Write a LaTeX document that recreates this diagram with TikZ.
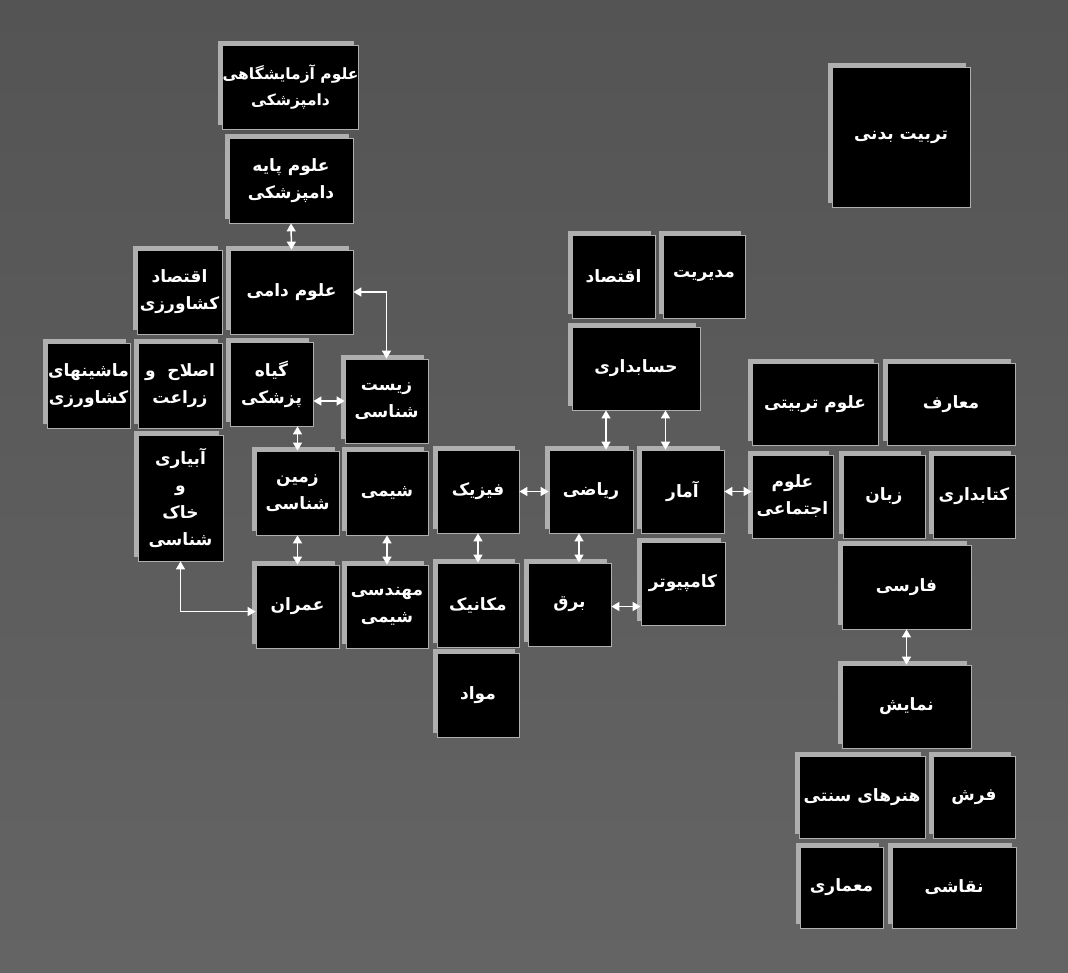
\documentclass[tikz,border=0pt]{standalone}
\usepackage{fontspec}
\usetikzlibrary{arrows.meta,shadows}
\TeXXeTstate=1
\newfontfamily\arabicfont[Script=Arabic]{DejaVu Sans}
\definecolor{bgtop}{RGB}{84,84,84}
\definecolor{bgbot}{RGB}{100,100,100}
\definecolor{edge}{RGB}{175,175,175}
\newcommand{\fa}[1]{\beginR #1\endR}

\tikzset{
  cell/.style 2 args={fill=black, draw=edge, line width=0.8pt, text=white, align=center,
    inner sep=0pt, minimum width=#1pt, minimum height=#2pt,
    font=\arabicfont\bfseries\fontsize{17}{27}\selectfont,
    general shadow={fill=edge, shadow xshift=-4.5pt, shadow yshift=4.5pt}},
  link/.style={white, line width=1.5pt, {Triangle[length=8pt,width=9pt]}-{Triangle[length=8pt,width=9pt]}}
}

\begin{document}
\begin{tikzpicture}[x=1pt,y=-1pt]
  \shade[top color=bgtop, bottom color=bgbot] (0,0) rectangle (1068,972);
  \useasboundingbox (0,0) rectangle (1068,972);

  \node[cell={138}{140}] (tarbiat) at (901,137) {\fa{تربیت بدنی}};

  \node[cell={125}{84}, font=\arabicfont\bfseries\fontsize{15.5}{26}\selectfont] (azmayesh) at (290.5,87) {\fa{علوم آزمایشگاهی}\\\fa{دامپزشکی}};
  \node[cell={124}{85}] (paye) at (291,180.5) {\fa{علوم پایه}\\\fa{دامپزشکی}};
  \node[cell={123}{84}] (dami) at (291.5,292) {\fa{علوم دامی}};
  \node[cell={85}{84}] (eqkesh) at (179.5,292) {\fa{اقتصاد}\\\fa{کشاورزی}};
  \node[cell={83}{85}] (mashin) at (88.5,385.5) {\fa{ماشینهای}\\\fa{کشاورزی}};
  \node[cell={84}{85}] (eslah) at (180,385.5) {\fa{اصلاح \ و}\\\fa{زراعت}};
  \node[cell={83}{84}] (giah) at (271.5,384) {\fa{گیاه}\\\fa{پزشکی}};
  \node[cell={83}{84}] (zist) at (386.5,401) {\fa{زیست}\\\fa{شناسی}};
  \node[cell={85}{126}] (abyari) at (180.5,498) {\fa{آبیاری}\\\fa{و}\\\fa{خاک}\\\fa{شناسی}};

  \node[cell={83}{84}] (zamin) at (297.5,493) {\fa{زمین}\\\fa{شناسی}};
  \node[cell={82}{84}] (shimi) at (387,493) {\fa{شیمی}};
  \node[cell={82}{83}] (fizik) at (478,491.5) {\fa{فیزیک}};
  \node[cell={84}{83}] (riazi) at (591,491.5) {\fa{ریاضی}};
  \node[cell={83}{83}] (amar) at (682.5,491.5) {\fa{آمار}};
  \node[cell={83}{83}] (omran) at (297.5,606.5) {\fa{عمران}};
  \node[cell={82}{83}] (mohshimi) at (387,606.5) {\fa{مهندسی}\\\fa{شیمی}};
  \node[cell={82}{84}] (mekanik) at (478,605) {\fa{مکانیک}};
  \node[cell={83}{83}] (bargh) at (569.5,604.5) {\fa{برق}};
  \node[cell={84}{83}] (computer) at (683,583.5) {\fa{کامپیوتر}};
  \node[cell={82}{84}] (mavad) at (478,695) {\fa{مواد}};

  \node[cell={83}{83}] (eqtesad) at (613.5,276.5) {\fa{اقتصاد}};
  \node[cell={82}{83}] (modiriat) at (704,276.5) {\fa{مدیریت}};
  \node[cell={128}{83}] (hesab) at (636,368.5) {\fa{حسابداری}};

  \node[cell={126}{82}] (tarbiati) at (815,404) {\fa{علوم تربیتی}};
  \node[cell={128}{82}] (maaref) at (951,404) {\fa{معارف}};
  \node[cell={81}{83}] (ejtemai) at (792.5,496.5) {\fa{علوم}\\\fa{اجتماعی}};
  \node[cell={82}{83}] (zaban) at (884,496.5) {\fa{زبان}};
  \node[cell={82}{83}] (ketab) at (974,496.5) {\fa{کتابداری}};
  \node[cell={129}{84}] (farsi) at (906.5,587) {\fa{فارسی}};
  \node[cell={129}{83}] (namayesh) at (906.5,706.5) {\fa{نمایش}};
  \node[cell={126}{82}] (honar) at (862,797) {\fa{هنرهای سنتی}};
  \node[cell={82}{82}] (farsh) at (974,797) {\fa{فرش}};
  \node[cell={83}{81}] (memari) at (841.5,887.5) {\fa{معماری}};
  \node[cell={124}{81}] (naghashi) at (954,887.5) {\fa{نقاشی}};

  \draw[link] (paye.south) -- (dami.north);
  \draw[link] (dami.east) -| (zist.north);
  \draw[link] (giah.east |- zist.west) -- (zist.west);
  \draw[link] (zamin.north |- giah.south) -- (zamin.north);
  \draw[link] (abyari.south) |- ([yshift=-5pt]omran.west);
  \draw[link] (zamin.south) -- (omran.north);
  \draw[link] (shimi.south) -- (mohshimi.north);
  \draw[link] (fizik.south) -- (mekanik.north);
  \draw[link] ([xshift=-12pt]riazi.south) -- ([xshift=-12pt]riazi.south |- bargh.north);
  \draw[link] (fizik.east) -- (riazi.west);
  \draw[link] ([yshift=-2pt]bargh.east) -- ([yshift=-2pt]bargh.east -| computer.west);
  \draw[link] ([xshift=15pt]riazi.north) -- ([xshift=15pt]riazi.north |- hesab.south);
  \draw[link] ([xshift=-17pt]amar.north) -- ([xshift=-17pt]amar.north |- hesab.south);
  \draw[link] (amar.east) -- (amar.east -| ejtemai.west);
  \draw[link] (farsi.south) -- (namayesh.north);
\end{tikzpicture}
\end{document}
